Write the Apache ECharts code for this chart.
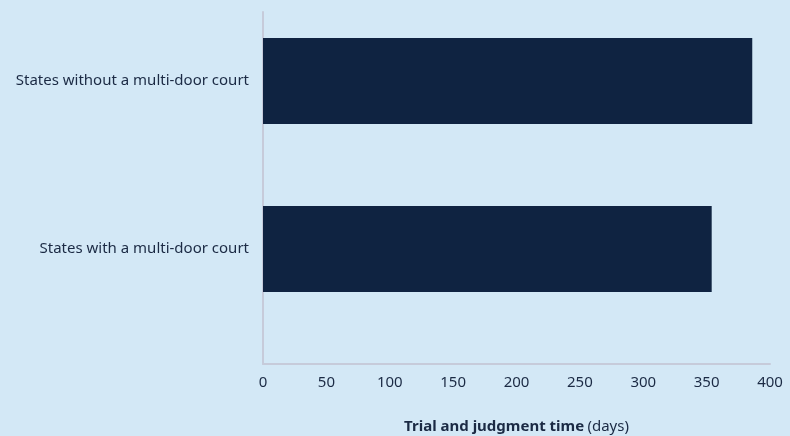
<!DOCTYPE html>
<html>
<head>
<meta charset="utf-8">
<script src="https://cdn.jsdelivr.net/npm/echarts@6/dist/echarts.min.js"></script>
<style>
html,body{margin:0;padding:0;background:#D3E8F6;}
#c{width:790px;height:436px;}
</style>
</head>
<body>
<div id="c"></div>
<script>
const categories = ['States without a multi-door court', 'States with a multi-door court'];
const trialDays = [386, 354];
const xTicks = [0, 50, 100, 150, 200, 250, 300, 350, 400];

const chart = echarts.init(document.getElementById('c'), null, {renderer: 'canvas'});
const textColor = '#1B2A44';
const font = 'Noto Sans';
chart.setOption({
  backgroundColor: '#D3E8F6',
  animation: false,
  grid: [
    {left: 263, width: 507, top: 12, height: 352, containLabel: false, outerBoundsMode: 'none'},
    {left: 263, width: 507, top: -3, height: 336, containLabel: false, outerBoundsMode: 'none'}
  ],
  xAxis: [
    {
      gridIndex: 0, type: 'value', min: xTicks[0], max: xTicks[xTicks.length - 1], interval: 50,
      axisLine: {show: true, lineStyle: {color: '#C6CBDA', width: 2}},
      axisTick: {show: false},
      splitLine: {show: false},
      axisLabel: {color: textColor, fontFamily: font, fontSize: 15, margin: 11},
      name: '{b|Trial and judgment time} {n|(days)}',
      nameLocation: 'middle', nameGap: 55,
      nameTextStyle: {
        rich: {
          b: {fontFamily: font, fontSize: 15, fontWeight: 'bold', color: textColor},
          n: {fontFamily: font, fontSize: 15, color: textColor}
        }
      }
    },
    {
      gridIndex: 1, type: 'value', min: 0, max: 400, show: false
    }
  ],
  yAxis: [
    {
      gridIndex: 0, type: 'value', min: 0, max: 1,
      axisLine: {show: true, lineStyle: {color: '#C6CBDA', width: 2}},
      axisTick: {show: false}, axisLabel: {show: false}, splitLine: {show: false}
    },
    {
      gridIndex: 1, type: 'category', data: categories, inverse: true,
      axisLine: {show: false}, axisTick: {show: false},
      axisLabel: {color: textColor, fontFamily: font, fontSize: 15, margin: 14}
    }
  ],
  series: [{
    type: 'bar', xAxisIndex: 1, yAxisIndex: 1,
    data: trialDays, barWidth: 86,
    itemStyle: {color: '#0F2341'}
  }]
});
</script>
</body>
</html>
